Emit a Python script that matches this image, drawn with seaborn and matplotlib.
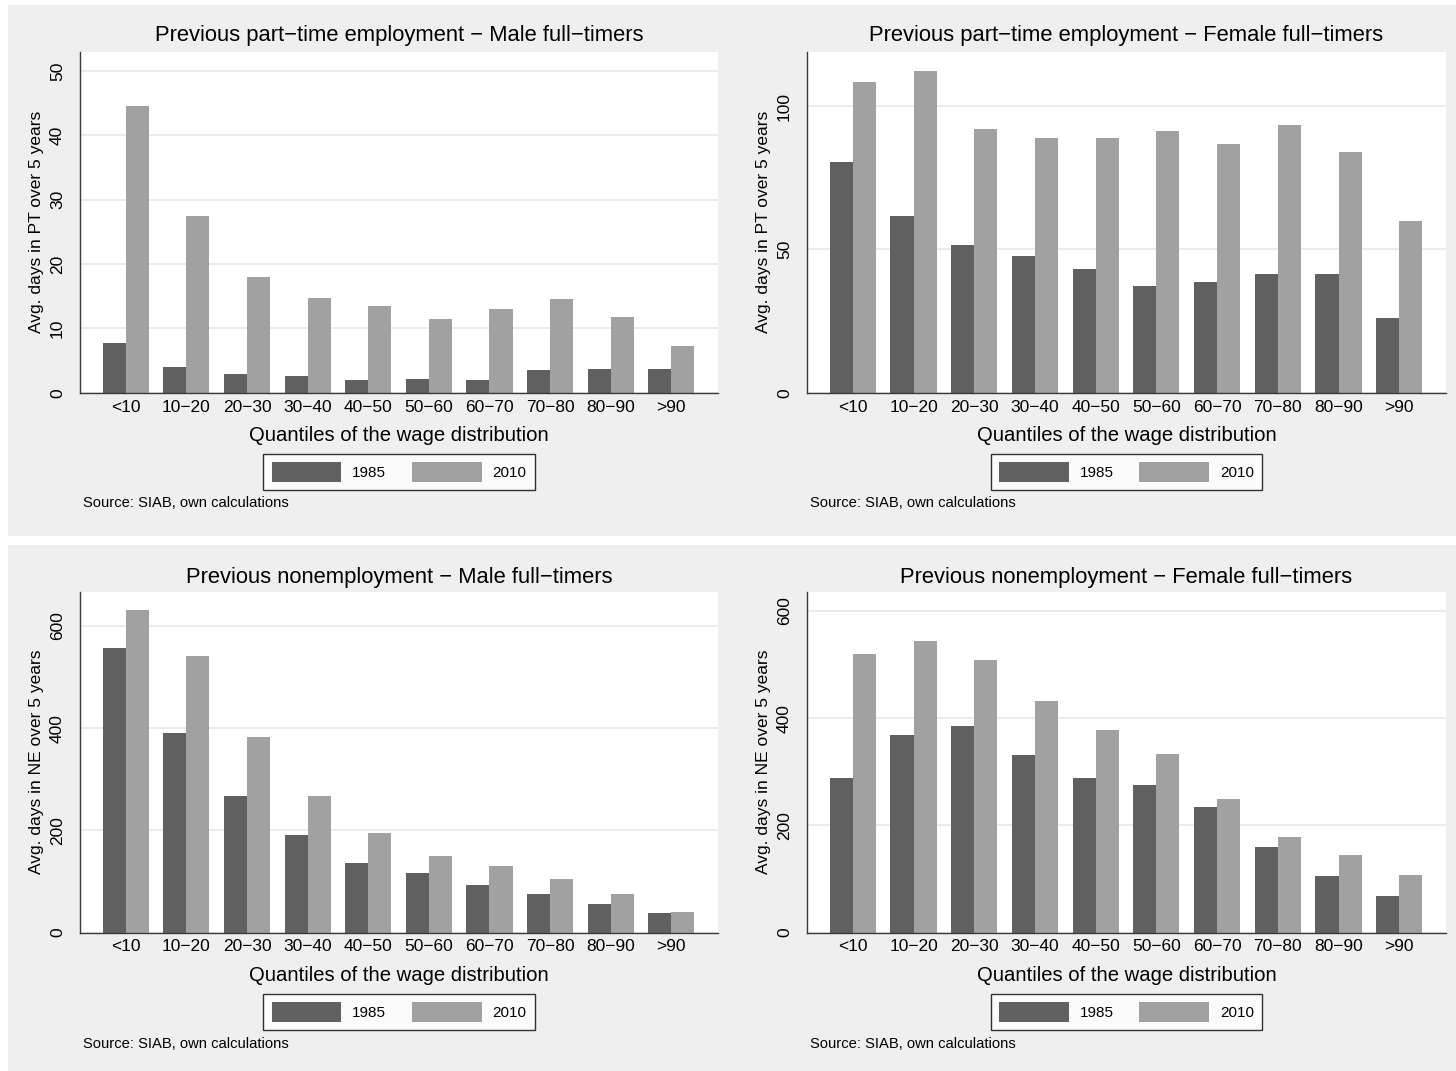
import matplotlib
matplotlib.use("Agg")
import matplotlib.pyplot as plt
from matplotlib.patches import Rectangle
import pandas as pd
import seaborn as sns

# Wage-distribution quantile groups and survey years
quantiles = ["<10", "10−20", "20−30", "30−40", "40−50",
             "50−60", "60−70", "70−80", "80−90", ">90"]
years = ["1985", "2010"]

# Average days in part-time (PT) employment over the previous 5 years
pt_male_1985 = [7.7, 4.0, 2.9, 2.65, 2.0, 2.2, 1.9, 3.5, 3.7, 3.7]
pt_male_2010 = [44.6, 27.4, 18.0, 14.7, 13.4, 11.4, 13.0, 14.6, 11.7, 7.2]
pt_female_1985 = [80.4, 61.5, 51.7, 47.6, 43.2, 37.1, 38.6, 41.5, 41.3, 26.2]
pt_female_2010 = [108.3, 112.1, 92.1, 89.0, 88.8, 91.2, 86.7, 93.5, 83.9, 60.0]

# Average days in nonemployment (NE) over the previous 5 years
ne_male_1985 = [557, 391, 267, 191, 137, 116, 93, 75, 56, 38]
ne_male_2010 = [631, 541, 383, 268, 195, 150, 130, 104, 75, 40]
ne_female_1985 = [288, 368, 385, 332, 288, 275, 234, 159, 106, 69]
ne_female_2010 = [519, 544, 508, 432, 378, 333, 250, 178, 144, 107]

titles = ["Previous part−time employment − Male full−timers",
          "Previous part−time employment − Female full−timers",
          "Previous nonemployment − Male full−timers",
          "Previous nonemployment − Female full−timers"]
ylabels = ["Avg. days in PT over 5 years", "Avg. days in PT over 5 years",
           "Avg. days in NE over 5 years", "Avg. days in NE over 5 years"]
yticks = [[0, 10, 20, 30, 40, 50], [0, 50, 100],
          [0, 200, 400, 600], [0, 200, 400, 600]]
ytops = [52.95, 118.9, 666.5, 635.5]
series = [(pt_male_1985, pt_male_2010), (pt_female_1985, pt_female_2010),
          (ne_male_1985, ne_male_2010), (ne_female_1985, ne_female_2010)]

DARK, LIGHT = "#606060", "#a1a1a1"
BG = "#efefef"
AXC = "#3a3a3a"
W, H = 1456, 1071

sns.set_theme(style="white")
plt.rcParams["font.family"] = ["Liberation Sans", "DejaVu Sans"]
plt.rcParams["text.color"] = "black"
plt.rcParams["axes.labelcolor"] = "black"

fig = plt.figure(figsize=(W / 100, H / 100), dpi=100)
fig.patch.set_facecolor(BG)

# white gutters around the two panel rows
for (x0, y0, w, h) in [(0, 0, 8, H), (0, 0, W, 5), (0, 536, W, 9)]:
    fig.patches.append(Rectangle((x0 / W, 1 - (y0 + h) / H), w / W, h / H,
                                 transform=fig.transFigure, facecolor="white",
                                 edgecolor="none", zorder=0))

# plot-region pixel boxes (left, right, top, bottom)
boxes = [(80, 718, 52, 392.7), (807, 1446, 52, 392.7),
         (80, 718, 592, 932.5), (807, 1446, 592, 932.5)]
row_text = [dict(title=36, legend=472, source=503),
            dict(title=577, legend=1012, source=1044)]

for i, ((left, right, top, bot), (s85, s10)) in enumerate(zip(boxes, series)):
    df = pd.DataFrame({
        "quantile": quantiles * 2,
        "year": [years[0]] * len(quantiles) + [years[1]] * len(quantiles),
        "days": list(s85) + list(s10),
    })
    ax = fig.add_axes([left / W, 1 - bot / H, (right - left) / W, (bot - top) / H])
    ax.set_facecolor("white")
    sns.barplot(data=df, x="quantile", y="days", hue="year", order=quantiles,
                hue_order=years, palette=[DARK, LIGHT], saturation=1,
                width=0.76, gap=0, linewidth=0, errorbar=None, ax=ax)
    handles, labels = ax.get_legend_handles_labels()
    ax.get_legend().remove()

    ax.set_xlim(-0.755, 9.77)
    ax.set_ylim(0, ytops[i])
    ax.set_yticks(yticks[i])
    ax.set_yticklabels([str(t) for t in yticks[i]], rotation=90, va="center",
                       fontsize=12.5)
    ax.tick_params(axis="y", length=5.8, width=1, color=AXC, pad=5,
                   labelcolor="black")
    ax.tick_params(axis="x", length=0, pad=5, labelsize=12.5,
                   labelcolor="black")
    ax.yaxis.grid(True, color="#e8e8e8", lw=1.2)
    ax.set_axisbelow(True)
    for s in ["top", "right"]:
        ax.spines[s].set_visible(False)
    for s in ["left", "bottom"]:
        ax.spines[s].set_color(AXC)
        ax.spines[s].set_linewidth(1)
    ax.set_xlabel("Quantiles of the wage distribution", fontsize=14.6,
                  labelpad=8.5)
    ax.set_ylabel(ylabels[i], fontsize=12.5, labelpad=4)

    row = row_text[i // 2]
    cx = (left + right) / 2
    fig.text(cx / W, 1 - row["title"] / H, titles[i], ha="center",
             va="center", fontsize=15.8)
    fig.text((left + 3) / W, 1 - row["source"] / H,
             "Source: SIAB, own calculations", ha="left", va="center",
             fontsize=10.6)
    leg = fig.legend(handles, labels, loc="center",
                     bbox_to_anchor=(cx / W, 1 - row["legend"] / H),
                     ncol=2, fontsize=11, frameon=True, fancybox=False,
                     handlelength=4.55, handleheight=1.55, handletextpad=0.72,
                     columnspacing=1.7, borderpad=0.55, borderaxespad=0)
    leg.get_frame().set_edgecolor("black")
    leg.get_frame().set_linewidth(1)
    leg.get_frame().set_facecolor("white")

fig.savefig("out.png", dpi=100, facecolor=fig.get_facecolor())
